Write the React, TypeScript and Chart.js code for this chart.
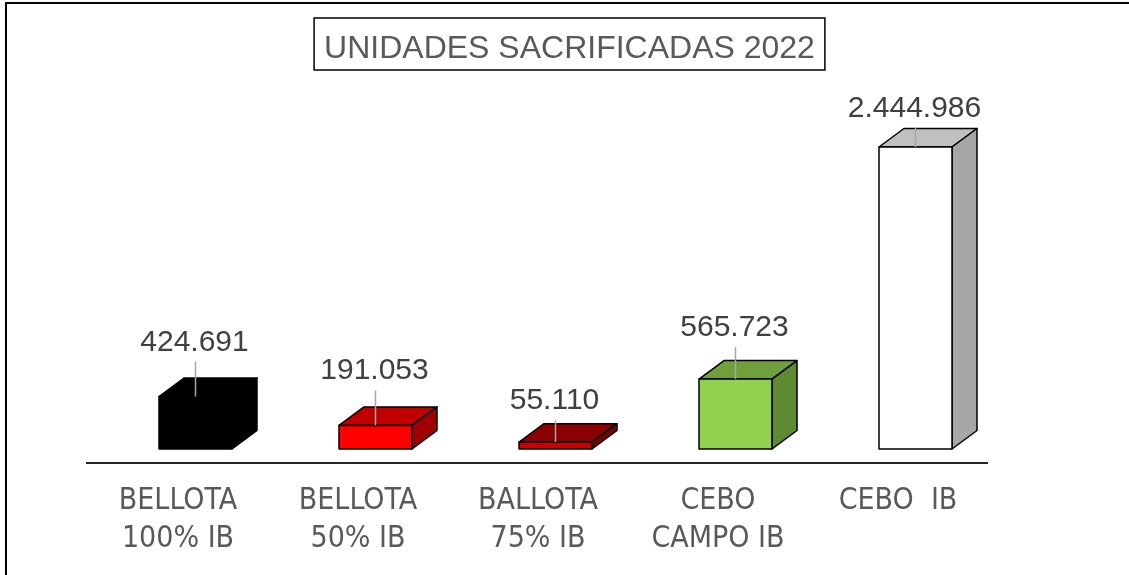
import React, { useEffect, useRef } from "react";
import { Chart, registerables } from "chart.js";

Chart.register(...registerables);

// ---- data ----
const TITLE = "UNIDADES SACRIFICADAS 2022";
const categories: (string | string[])[] = [
  ["BELLOTA", "100% IB"],
  ["BELLOTA", "50% IB"],
  ["BALLOTA", "75% IB"],
  ["CEBO", "CAMPO IB"],
  "CEBO  IB",
];
const values = [424691, 191053, 55110, 565723, 2444986];

// ---- styles ----
const frontColors = ["#000000", "#FF0000", "#CC0000", "#92D050", "#FFFFFF"];
const topColors = ["#000000", "#C00000", "#8B0000", "#70A03C", "#C0C0C0"];
const sideColors = ["#000000", "#A00000", "#780000", "#5E8A32", "#A6A6A6"];
const labelLift = [57, 57, 44, 54, 41];

const fmt = (v: number) => String(v).replace(/\B(?=(\d{3})+(?!\d))/g, ".");

const decorPlugin = {
  id: "decor3d",
  beforeDraw(chart: any) {
    const ctx = chart.ctx;
    ctx.save();
    // outer frame (left + top)
    ctx.strokeStyle = "#000000";
    ctx.lineWidth = 2;
    ctx.beginPath();
    ctx.moveTo(6, chart.height);
    ctx.lineTo(6, 3);
    ctx.lineTo(chart.width, 3);
    ctx.stroke();
    // title with box
    ctx.font = '32px "Liberation Sans", Arial, sans-serif';
    ctx.fillStyle = "#595959";
    ctx.textAlign = "center";
    ctx.textBaseline = "alphabetic";
    const cx = 569.5;
    const w = ctx.measureText(TITLE).width;
    ctx.fillText(TITLE, cx, 58);
    ctx.lineWidth = 1.5;
    ctx.strokeStyle = "#000000";
    ctx.strokeRect(cx - w / 2 - 10, 18, w + 20, 52);
    ctx.restore();
  },
  afterDatasetsDraw(chart: any) {
    const ctx = chart.ctx;
    const xs = chart.scales.x;
    const ys = chart.scales.y;
    const base = ys.getPixelForValue(0);
    ctx.save();
    // axis line
    ctx.strokeStyle = "#262626";
    ctx.lineWidth = 2;
    ctx.beginPath();
    ctx.moveTo(xs.left - 2, base + 14);
    ctx.lineTo(xs.right, base + 14);
    ctx.stroke();

    const dx = 25;
    const dy = 18.5;
    const poly = (pts: number[][], fill: string) => {
      ctx.beginPath();
      ctx.moveTo(pts[0][0], pts[0][1]);
      for (let k = 1; k < pts.length; k++) ctx.lineTo(pts[k][0], pts[k][1]);
      ctx.closePath();
      ctx.fillStyle = fill;
      ctx.fill();
      ctx.stroke();
    };
    values.forEach((v, i) => {
      const c = xs.getPixelForValue(i);
      const l = c - 19;
      const r = c + 54;
      const t = ys.getPixelForValue(v);
      const b = base;
      ctx.lineJoin = "round";
      ctx.lineWidth = 1.5;
      ctx.strokeStyle = "#000000";
      poly([[l, t], [l + dx, t - dy], [r + dx, t - dy], [r, t]], topColors[i]);
      poly([[r, t], [r + dx, t - dy], [r + dx, b - dy], [r, b]], sideColors[i]);
      poly([[l, t], [r, t], [r, b], [l, b]], frontColors[i]);

      // label + leader
      const fc = (l + r) / 2;
      const ly = t - labelLift[i];
      ctx.strokeStyle = "#A6A6A6";
      ctx.lineWidth = 1.5;
      ctx.beginPath();
      ctx.moveTo(fc, ly + 22);
      ctx.lineTo(fc, t);
      ctx.stroke();
      ctx.font = '30px "Liberation Sans", Arial, sans-serif';
      ctx.fillStyle = "#404040";
      ctx.textAlign = "center";
      ctx.textBaseline = "alphabetic";
      ctx.fillText(fmt(v), fc - 1, ly + 11);
    });
    ctx.restore();
  },
};

export default function App() {
  const ref = useRef<HTMLCanvasElement | null>(null);
  useEffect(() => {
    document.body.style.margin = "0";
    document.body.style.overflow = "hidden";
    const canvas = ref.current;
    if (!canvas) return;
    const chart = new Chart(canvas, {
      type: "bar",
      data: {
        labels: categories as any,
        datasets: [
          {
            data: values,
            backgroundColor: "rgba(0,0,0,0)",
            borderWidth: 0,
          },
        ],
      },
      options: {
        responsive: false,
        animation: false,
        layout: { padding: { left: 88, right: 141, top: 78.44, bottom: 0 } },
        plugins: {
          legend: { display: false },
          tooltip: { enabled: false },
          title: { display: false },
        },
        scales: {
          x: {
            grid: { display: false, drawTicks: false },
            border: { display: false },
            ticks: {
              color: "#595959",
              font: { family: '"DejaVu Sans Condensed", "Liberation Sans Narrow", sans-serif', size: 30, lineHeight: 1.27 },
              padding: 33,
              maxRotation: 0,
              autoSkip: false,
            },
            afterFit: (s: any) => {
              s.height = 126;
            },
          },
          y: {
            display: false,
            min: 0,
            max: 3000000,
          },
        },
      },
      plugins: [decorPlugin],
    });
    return () => chart.destroy();
  }, []);
  return (
    <div style={{ width: 1129, height: 575, overflow: "hidden" }}>
      <canvas ref={ref} width={1129} height={575} style={{ display: "block" }} />
    </div>
  );
}
